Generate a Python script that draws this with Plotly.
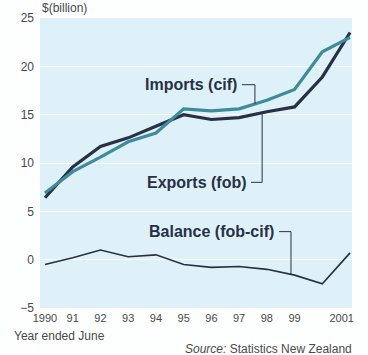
import numpy as np
import plotly.graph_objects as go

# Data: New Zealand merchandise trade, year ended June ($ billion)
years = list(range(1990, 2002))
exports_fob = [6.4, 9.6, 11.7, 12.6, 13.8, 15.0, 14.5, 14.7, 15.3, 15.8, 18.9, 23.5]
imports_cif = [6.9, 9.1, 10.6, 12.2, 13.1, 15.6, 15.4, 15.6, 16.5, 17.6, 21.5, 23.0]
balance = [-0.5, 0.2, 1.0, 0.3, 0.5, -0.5, -0.8, -0.7, -1.0, -1.6, -2.5, 0.7]

x_ticks = [1990, 1991, 1992, 1993, 1994, 1995, 1996, 1997, 1998, 1999, 2000.7]
x_ticktext = ["1990", "91", "92", "93", "94", "95", "96", "97", "98", "99", "2001"]
y_ticks = [-5, 0, 5, 10, 15, 20, 25]

navy = "#283046"
teal = "#3D8B9C"
panel = "#DFF1F8"
label_font = dict(family="Liberation Sans, Arial", size=16, color=navy)
small = dict(family="Liberation Sans, Arial", size=12, color="#4a4a4a")

fig = go.Figure()

fig.add_trace(go.Scatter(x=years, y=exports_fob, mode="lines",
                         line=dict(color=navy, width=3.2)))
fig.add_trace(go.Scatter(x=years, y=imports_cif, mode="lines",
                         line=dict(color=teal, width=3.2)))
fig.add_trace(go.Scatter(x=years, y=balance, mode="lines",
                         line=dict(color=navy, width=1.6)))

# series labels with bracket-style leader lines to each series
labels = [
    ("Imports (cif)", 1997.0, 18.1, 1997.1, 1997.57, imports_cif),
    ("Exports (fob)", 1997.36, 8.0, 1997.43, 1997.83, exports_fob),
    ("Balance (fob-cif)", 1998.33, 2.9, 1998.44, 1998.87, balance),
]
for text, xr, ly, x0, x1, series in labels:
    fig.add_annotation(x=xr, y=ly, text=f"<b>{text}</b>", showarrow=False,
                       xanchor="right", yanchor="middle", font=label_font)
    target = float(np.interp(x1, years, series))
    fig.add_shape(type="line", x0=x0, x1=x1, y0=ly, y1=ly,
                  line=dict(color=navy, width=1))
    fig.add_shape(type="line", x0=x1, x1=x1, y0=ly, y1=target,
                  line=dict(color=navy, width=1))

# plot area is 312 x 290 px; paper coords below are relative to it
fig.add_annotation(x=0, y=1 + 10 / 290, xref="paper", yref="paper",
                   text="$(billion)", showarrow=False, font=small,
                   xanchor="left", yanchor="middle")
fig.add_annotation(x=-28 / 312, y=-28 / 290, xref="paper", yref="paper",
                   text="Year ended June", showarrow=False, font=small,
                   xanchor="left", yanchor="middle")
fig.add_annotation(x=1 + 2 / 312, y=-41 / 290, xref="paper", yref="paper",
                   text="<i>Source:</i> Statistics New Zealand", showarrow=False,
                   font=small, xanchor="right", yanchor="middle")

fig.update_layout(
    width=368, height=355,
    margin=dict(l=40, r=16, t=18, b=47),
    paper_bgcolor="#FDFEFE",
    plot_bgcolor=panel,
    showlegend=False,
    xaxis=dict(range=[1989.82, 2001.07], tickvals=x_ticks, ticktext=x_ticktext,
               showgrid=False, zeroline=False, showline=False, ticks="",
               tickfont=dict(family="Liberation Sans, Arial", size=11, color="#4a4a4a"),
               ticklabelstandoff=2, fixedrange=True),
    yaxis=dict(range=[-5, 25], tickvals=y_ticks, showgrid=True,
               gridcolor="white", gridwidth=1.2, zeroline=False, showline=False,
               ticks="", tickfont=dict(family="Liberation Sans, Arial", size=12, color="#4a4a4a"),
               ticklabelstandoff=5, fixedrange=True),
)

fig.write_html("out.html", config={"displayModeBar": False},
               post_script="document.body.style.margin='0';")
